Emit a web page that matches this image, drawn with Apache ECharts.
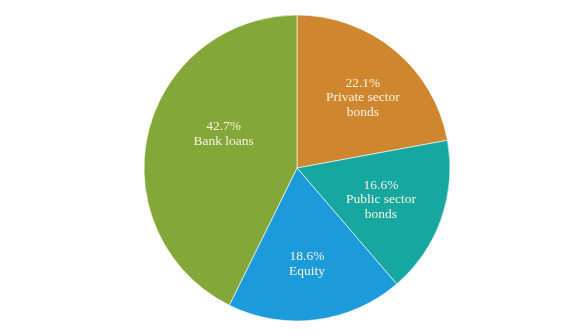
<!DOCTYPE html>
<html>
<head>
<meta charset="utf-8">
<style>
  html, body { margin: 0; padding: 0; background: #ffffff; }
  #chart { width: 582px; height: 335px; }
</style>
<script src="https://cdn.jsdelivr.net/npm/echarts@6/dist/echarts.min.js"></script>
</head>
<body>
<div id="chart"></div>
<script>
// Funding sources, clockwise from 12 o'clock
const categories = ['Private sector\nbonds', 'Public sector\nbonds', 'Equity', 'Bank loans'];
const shares = [22.1, 16.6, 18.6, 42.7];
const colors = ['#cf872f', '#17a7a1', '#1c9bdb', '#84a73a'];
// per-slice label nudges [dx, dy] away from the default inside position
const labelShift = [[15, -9], [9, 5], [0, 17], [4, -16]];

const chart = echarts.init(document.getElementById('chart'), null, { renderer: 'canvas' });

const data = categories.map((name, i) => ({
  name: name,
  value: shares[i],
  itemStyle: { color: colors[i] }
}));

chart.setOption({
  animation: false,
  backgroundColor: '#ffffff',
  series: [{
    type: 'pie',
    center: [297, 168],
    radius: [0, 153],
    startAngle: 90,
    clockwise: true,
    avoidLabelOverlap: false,
    itemStyle: { borderColor: 'rgba(255,255,255,0.6)', borderWidth: 1 },
    label: {
      show: true,
      position: 'inside',
      formatter: p => p.value.toFixed(1) + '%\n' + p.name,
      color: '#f7f2de',
      fontFamily: 'Liberation Serif',
      fontSize: 13.5,
      lineHeight: 14.5,
      align: 'center'
    },
    labelLayout: p => ({ dx: labelShift[p.dataIndex][0], dy: labelShift[p.dataIndex][1] }),
    labelLine: { show: false },
    emphasis: { disabled: true },
    data: data
  }]
});
</script>
</body>
</html>
